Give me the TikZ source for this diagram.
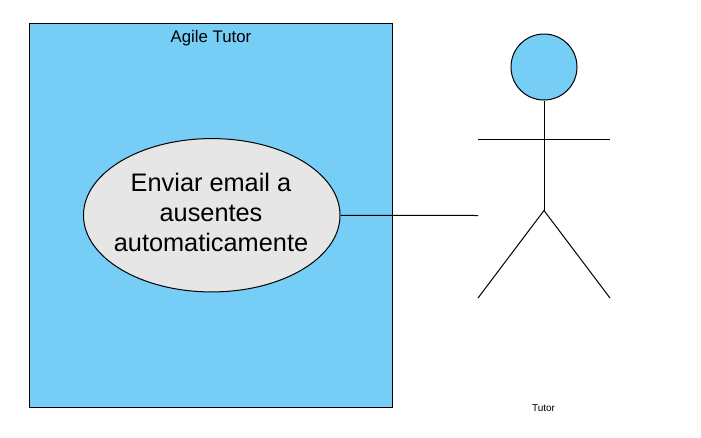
\documentclass[tikz,border=0pt]{standalone}
\usepackage{fontspec}
\setmainfont{Liberation Sans}
\usepackage{xcolor}
\usepackage{tikz}
\usetikzlibrary{positioning,calc,shapes.geometric}
\definecolor{boxblue}{HTML}{76CDF6}
\definecolor{casegray}{HTML}{E6E6E6}

\begin{document}
\begin{tikzpicture}[
    x=0.75pt, y=-0.75pt,
    outline/.style={draw, line width=0.75pt, inner sep=0pt},
    system/.style={outline, fill=boxblue, minimum width=272.25pt, minimum height=288pt},
    usecase/.style={outline, ellipse, fill=casegray, minimum width=192.4pt, minimum height=115pt},
    head/.style={outline, circle, fill=boxblue, minimum size=49.5pt},
    limb/.style={line width=0.75pt}
]
\useasboundingbox (0,0) rectangle (701,437);

\node[system] (agile) at (211.2,215.5) {};
\node[usecase] (envio) at (211.75,215.25) {};
\node[head] (cabeca) at (544,67) {};

\node[font=\fontsize{12.6}{14}\selectfont] (agiletitle) at (211,38.5) {Agile Tutor};
\node[align=center, font=\fontsize{19}{22.5}\selectfont] (enviotext) at (211,212.5) {Enviar email a\\ausentes\\automaticamente};
\node[font=\fontsize{7.5}{9}\selectfont] (tutor) at (543.5,408) {Tutor};

\coordinate (ombro) at (544,139.75);
\coordinate (quadril) at (544,210.5);
\coordinate (maoesq) at (478,139.75);
\coordinate (maodir) at (610,139.75);
\coordinate (peesq) at (478,298);
\coordinate (pedir) at (610,298);
\coordinate (ator) at (478,215.5);

\draw[limb] (cabeca.south) -- (quadril);
\draw[limb] (maoesq) -- (maodir);
\draw[limb] (peesq) -- (quadril) -- (pedir);
\draw[limb] (envio.east) -- (ator);
\end{tikzpicture}
\end{document}
